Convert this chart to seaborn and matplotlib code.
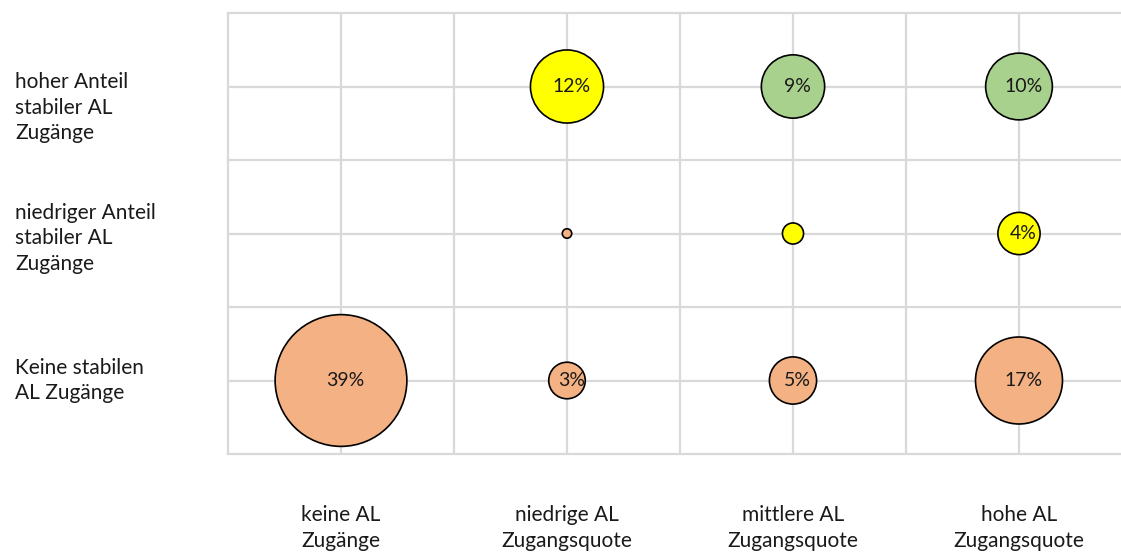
import matplotlib
matplotlib.use("Agg")
import matplotlib.pyplot as plt
import matplotlib.transforms as mtransforms
import pandas as pd
import seaborn as sns

# Kategorien
spalten = ["keine AL\nZugänge", "niedrige AL\nZugangsquote",
           "mittlere AL\nZugangsquote", "hohe AL\nZugangsquote"]
zeilen = ["Keine stabilen\nAL Zugänge",
          "niedriger Anteil\nstabiler AL\nZugänge",
          "hoher Anteil\nstabiler AL\nZugänge"]

# Anteile je Zelle (Spalte, Zeile, Wert in %, Beschriftung, Farbgruppe)
spalte_idx = [1, 2, 3, 4, 2, 3, 4, 2, 3, 4]
zeile_idx = [1, 1, 1, 1, 2, 2, 2, 3, 3, 3]
anteil = [39, 3, 5, 17, 0.2, 1, 4, 12, 9, 10]
beschriftung = ["39%", "3%", "5%", "17%", "", "", "4%", "12%", "9%", "10%"]
gruppe = ["orange", "orange", "orange", "orange",
          "orange", "gelb", "gelb", "gelb", "gruen", "gruen"]

farben = {"orange": "#F4B183", "gelb": "#FFFF00", "gruen": "#A9D18E"}

df = pd.DataFrame({"x": spalte_idx, "y": zeile_idx, "anteil": anteil,
                   "label": beschriftung, "gruppe": gruppe})

sns.set_theme(style="white")
plt.rcParams["font.family"] = ["Lato", "DejaVu Sans"]

fig = plt.figure(figsize=(11.21, 5.53), dpi=100)
ax = fig.add_axes([228 / 1121, 1 - 454 / 553, 1 - 228 / 1121, (454 - 13) / 553])

grid_col = "#D9D9D9"
txt_col = "#1a1a1a"
# Flächenproportionale Blasen: Fläche ~ Anteil
max_area = 9000
sns.scatterplot(data=df, x="x", y="y", size="anteil", hue="gruppe",
                palette=farben, sizes=(0, max_area), size_norm=(0, 39),
                edgecolor="black", linewidth=1.2, alpha=1, legend=False,
                ax=ax, zorder=3)

for _, r in df.iterrows():
    if r["label"]:
        ax.text(r["x"] + 0.02, r["y"], r["label"], ha="center", va="center",
                fontsize=14, color=txt_col, zorder=4)

ax.set_xlim(0.5, 0.5 + 893 / 226)
ax.set_ylim(0.5, 3.5)

# Gitter an Zellmitten und Zellgrenzen
ax.set_xticks([1, 2, 3, 4])
ax.set_xticks([1.5, 2.5, 3.5], minor=True)
ax.set_yticks([1, 2, 3])
ax.set_yticks([1.5, 2.5], minor=True)
ax.grid(True, which="both", color=grid_col, linewidth=1.6, zorder=0)
ax.set_axisbelow(True)

ax.set_xticklabels(spalten, fontsize=15, color=txt_col, linespacing=1.35)
ax.tick_params(axis="x", which="both", length=0, pad=37)
ax.tick_params(axis="y", which="both", length=0)
ax.set_yticklabels([])
ax.set_xlabel("")
ax.set_ylabel("")

for s in ["left", "top", "bottom"]:
    ax.spines[s].set_color(grid_col)
    ax.spines[s].set_linewidth(1.6)
ax.spines["right"].set_visible(False)

# Zeilenbeschriftungen links, linksbündig
verschiebung_px = [0, -5, -21]
for i, txt in enumerate(zeilen):
    trans = mtransforms.blended_transform_factory(fig.transFigure, ax.transData)
    trans = trans + mtransforms.ScaledTranslation(0, verschiebung_px[i] / 100, fig.dpi_scale_trans)
    ax.text(15 / 1121, i + 1, txt, transform=trans, ha="left", va="center",
            fontsize=15, color=txt_col, linespacing=1.35)

fig.savefig("out.png", dpi=100)
